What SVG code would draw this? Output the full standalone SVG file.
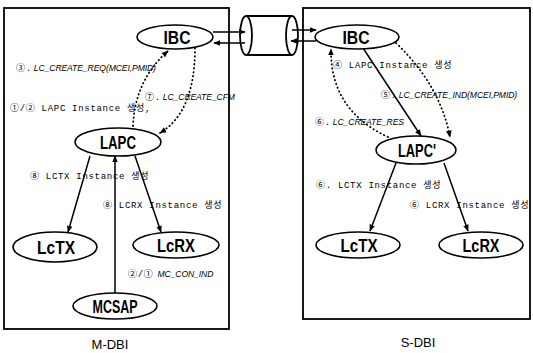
<svg xmlns="http://www.w3.org/2000/svg" width="533" height="353" viewBox="0 0 533 353">
<style>
.box{fill:none;stroke:#000;stroke-width:1.8}
.node ellipse{fill:#fff;stroke:#000;stroke-width:1.6}
.node text{font-family:"Liberation Sans","DejaVu Sans",sans-serif;font-weight:bold;font-size:19px;text-anchor:middle;dominant-baseline:central}
.solid{fill:none;stroke:#000;stroke-width:1.5;marker-end:url(#ah)}
.dot{fill:none;stroke:#000;stroke-width:1.8;stroke-dasharray:0.5 3.5;stroke-linecap:round;marker-end:url(#ah)}
.lbl{font-family:"Liberation Mono","Noto Sans CJK KR",monospace;font-size:9px;letter-spacing:0.7px}
.it{font-family:"Liberation Sans",sans-serif;font-style:italic;letter-spacing:-0.1px;font-size:8.6px}
.cap{font-family:"Liberation Sans","DejaVu Sans",sans-serif;font-size:13px;text-anchor:middle}
</style>
<defs>
<marker id="ah" viewBox="0 0 10 10" refX="9" refY="5" markerWidth="7" markerHeight="7" markerUnits="userSpaceOnUse" orient="auto">
<path d="M0,1 L10,5 L0,9 z" fill="#000"/>
</marker>
</defs>
<rect width="533" height="353" fill="#fff"/>
<rect class="box" x="4" y="8" width="225" height="321"/>
<rect class="box" x="303" y="8" width="227" height="311"/>
<g id="channel">
<path d="M246,16 L292,16 M246,55 L292,55" stroke="#000" stroke-width="1.8" fill="none"/>
<ellipse cx="246" cy="35.5" rx="6" ry="19.5" fill="#fff" stroke="#000" stroke-width="1.8"/>
<path d="M292,16 A6,19.5 0 0 1 292,55 A6,19.5 0 0 1 292,16" fill="none" stroke="#000" stroke-width="1.8"/>
</g>
<g id="connectors">
<line class="solid" x1="213" y1="32" x2="245" y2="32"/>
<line class="solid" x1="245" y1="43" x2="214" y2="43"/>
<line class="solid" x1="292" y1="30" x2="316" y2="30"/>
<line class="solid" x1="316" y1="41" x2="291" y2="41"/>
<path class="dot" d="M133,126 Q135,80 168,51"/>
<path class="dot" d="M195,48 Q195,112 160,133"/>
<line class="solid" x1="90" y1="156" x2="68" y2="232"/>
<line class="solid" x1="115" y1="293" x2="115" y2="156"/>
<line class="solid" x1="135" y1="156" x2="161" y2="232"/>
<line class="solid" x1="363" y1="48" x2="421" y2="136"/>
<path class="dot" d="M396,43 Q440,85 450,137"/>
<path class="dot" d="M388,137 Q330,110 331,49"/>
<line class="solid" x1="396" y1="163" x2="370" y2="231"/>
<line class="solid" x1="444" y1="163" x2="468" y2="231"/>
</g>
<g id="IBC_M" class="node"><ellipse cx="175" cy="37" rx="38" ry="12"/><text x="177" y="37" textLength="27" lengthAdjust="spacingAndGlyphs">IBC</text></g>
<g id="LAPC" class="node"><ellipse cx="118" cy="142" rx="43" ry="14"/><text x="118" y="142" textLength="36" lengthAdjust="spacingAndGlyphs">LAPC</text></g>
<g id="LcTX_M" class="node"><ellipse cx="55" cy="247" rx="42" ry="15"/><text x="56" y="247" textLength="38" lengthAdjust="spacingAndGlyphs">LcTX</text></g>
<g id="LcRX_M" class="node"><ellipse cx="176" cy="245" rx="43" ry="13"/><text x="176" y="245" textLength="38" lengthAdjust="spacingAndGlyphs">LcRX</text></g>
<g id="MCSAP" class="node"><ellipse cx="115" cy="306" rx="42" ry="13"/><text x="115" y="306" textLength="45" lengthAdjust="spacingAndGlyphs">MCSAP</text></g>
<g id="IBC_S" class="node"><ellipse cx="357" cy="37" rx="42" ry="12"/><text x="356" y="37" textLength="27" lengthAdjust="spacingAndGlyphs">IBC</text></g>
<g id="LAPC2" class="node"><ellipse cx="416" cy="150" rx="40" ry="14"/><text x="417" y="150" textLength="38" lengthAdjust="spacingAndGlyphs">LAPC'</text></g>
<g id="LcTX_S" class="node"><ellipse cx="358" cy="245" rx="42" ry="13"/><text x="359" y="245" textLength="37" lengthAdjust="spacingAndGlyphs">LcTX</text></g>
<g id="LcRX_S" class="node"><ellipse cx="481" cy="245" rx="42" ry="13"/><text x="481" y="245" textLength="37" lengthAdjust="spacingAndGlyphs">LcRX</text></g>
<g id="labels">
<text class="lbl" x="16" y="71">③.<tspan class="it" dx="2">LC_CREATE_REQ(MCEI,PMID)</tspan></text>
<text class="lbl" x="145" y="100">⑦.<tspan class="it" dx="2">LC_CREATE_CFM</tspan></text>
<text class="lbl" x="10" y="111">①/② LAPC Instance 생성,</text>
<text class="lbl" x="30" y="179">⑧ LCTX Instance 생성</text>
<text class="lbl" x="103" y="208">⑧ LCRX Instance 생성</text>
<text class="lbl" x="128" y="277">②/①<tspan class="it" dx="4">MC_CON_IND</tspan></text>
<text class="lbl" x="333" y="68">④ LAPC Instance 생성</text>
<text class="lbl" x="381" y="98">⑤.<tspan class="it" dx="2">LC_CREATE_IND(MCEI,PMID)</tspan></text>
<text class="lbl" x="315" y="125">⑥.<tspan class="it" dx="2">LC_CREATE_RES</tspan></text>
<text class="lbl" x="316" y="188">⑥. LCTX Instance 생성</text>
<text class="lbl" x="410" y="208">⑥ LCRX Instance 생성</text>
<text class="cap" x="110" y="349">M-DBI</text>
<text class="cap" x="418" y="347">S-DBI</text>
</g>
</svg>
